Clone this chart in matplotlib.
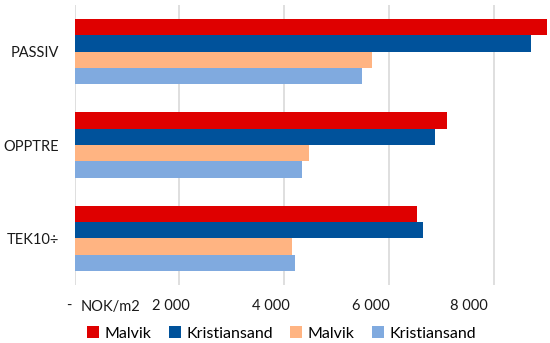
import numpy as np
import matplotlib.pyplot as plt
from matplotlib.transforms import ScaledTranslation

# cost per m2 by building standard
categories = ["PASSIV", "OPPTRE", "TEK10÷"]
series_names = ["Malvik", "Kristiansand", "Malvik", "Kristiansand"]
malvik_1 = [9000, 7090, 6530]
kristiansand_1 = [8700, 6860, 6645]
malvik_2 = [5660, 4470, 4140]
kristiansand_2 = [5480, 4330, 4200]
xticks = [0, 2000, 4000, 6000, 8000]
xtick_labels = ["-", "2 000", "4 000", "6 000", "8 000"]

colors = ["#DF0000", "#00529B", "#FFB482", "#80AADF"]
series = [malvik_1, kristiansand_1, malvik_2, kristiansand_2]

plt.rcParams['font.family'] = ['Lato', 'DejaVu Sans']

fig = plt.figure(figsize=(5.5, 3.43), dpi=100)
ax = fig.add_axes([0.1355, 0.169, 0.8645, 0.8164])

y = np.arange(len(categories))
h = 0.175
for i, (vals, col, name) in enumerate(zip(series, colors, series_names)):
    ax.barh(y + (i - 1.5) * h, vals, height=h, color=col, label=name, zorder=3)

ax.set_ylim(2.5, -0.5)
ax.set_xlim(0, 9060)
ax.set_yticks(y)
ax.set_yticklabels(categories, fontsize=10.5, color="#1a1a1a")
ax.set_xticks(xticks)
ax.set_xticklabels(xtick_labels, fontsize=10.5, color="#1a1a1a")
ax.tick_params(axis='both', length=0)
ax.tick_params(axis='x', pad=10)
ax.tick_params(axis='y', pad=11)
ax.grid(axis='x', color="#D9D9D9", linewidth=1.2, zorder=0)
for s in ax.spines.values():
    s.set_visible(False)

# excel puts the value labels a bit left of the gridlines
shifts = [-6, -9, -14, -19, -25]
for lbl, dx in zip(ax.get_xticklabels(), shifts):
    lbl.set_transform(lbl.get_transform() + ScaledTranslation(dx / 100, 0, fig.dpi_scale_trans))

ax.text(0.013, -0.078, "NOK/m2", transform=ax.transAxes, fontsize=10.5,
        color="#1a1a1a", va='center', ha='left')

fig.legend(loc='center', bbox_to_anchor=(0.512, 0.028), ncol=4, frameon=False,
           fontsize=11.5, handlelength=0.75, handleheight=0.8, handletextpad=0.35,
           columnspacing=1.1)

fig.savefig("out.png", dpi=100)
